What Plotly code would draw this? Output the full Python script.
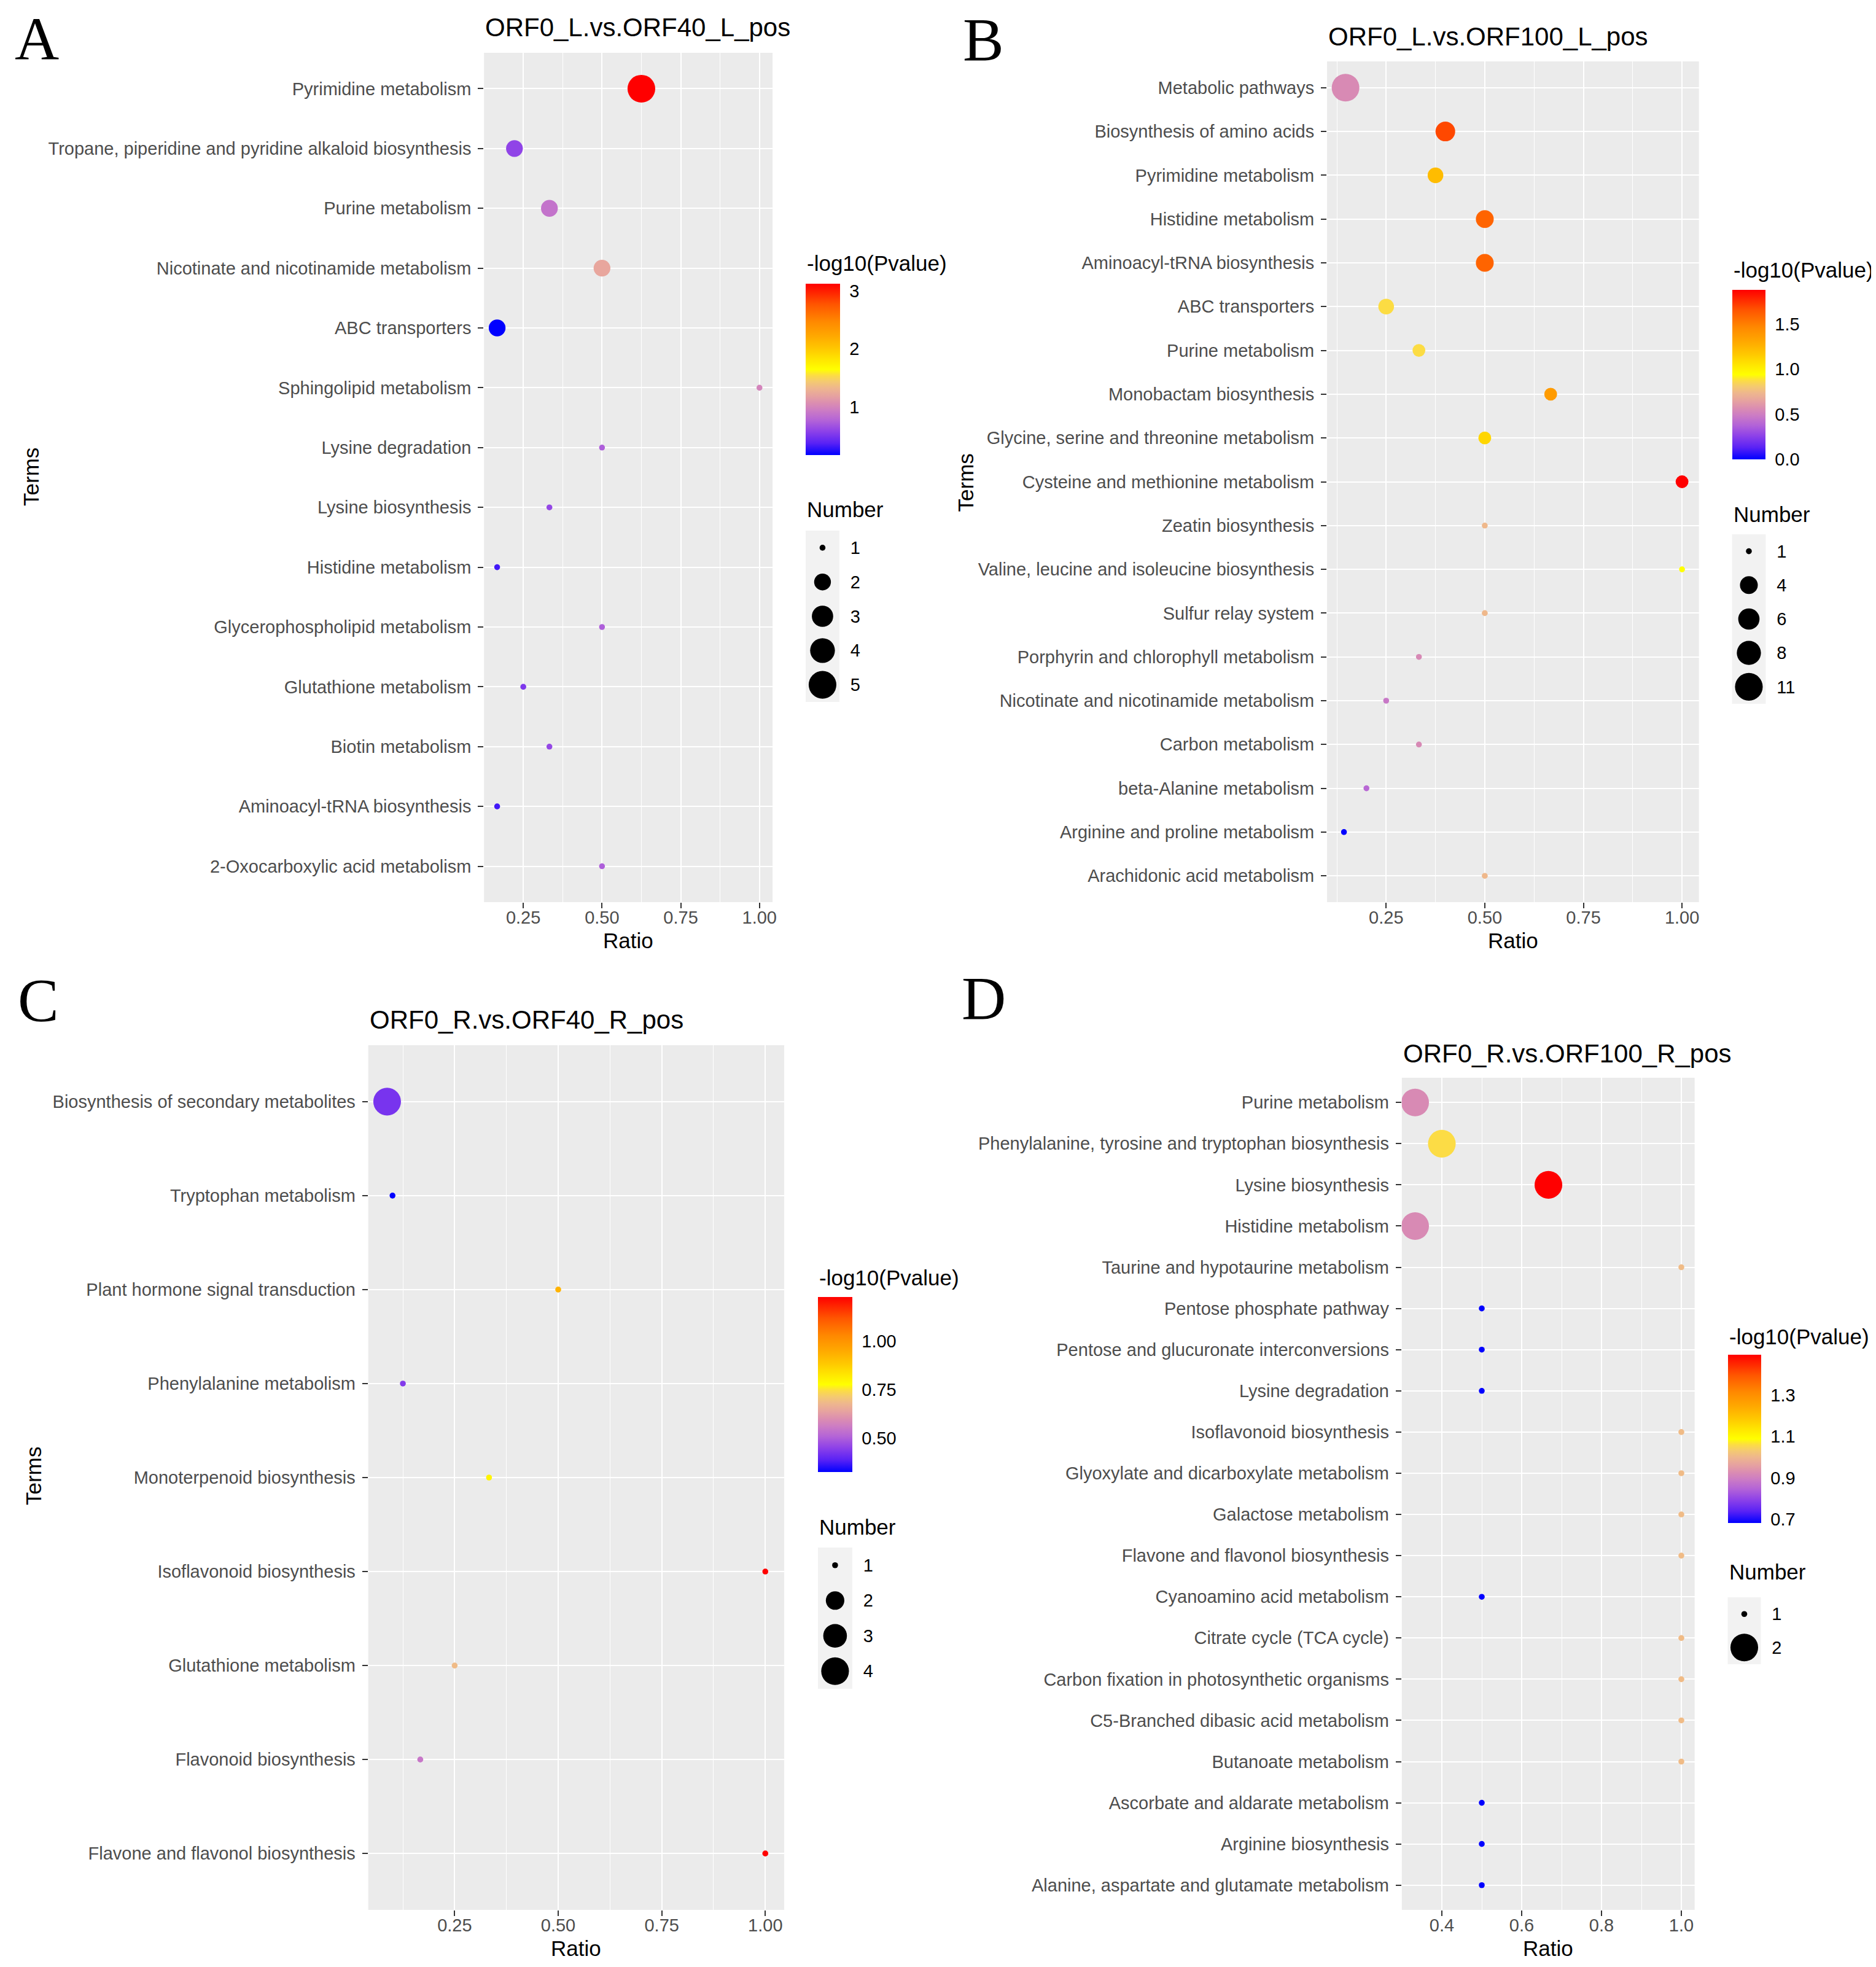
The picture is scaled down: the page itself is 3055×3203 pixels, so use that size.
import numpy as np
import plotly.graph_objects as go

W, H = 3055, 3203

# ---------------- data ----------------
a_terms = ["Pyrimidine metabolism",
           "Tropane, piperidine and pyridine alkaloid biosynthesis",
           "Purine metabolism", "Nicotinate and nicotinamide metabolism",
           "ABC transporters", "Sphingolipid metabolism", "Lysine degradation",
           "Lysine biosynthesis", "Histidine metabolism",
           "Glycerophospholipid metabolism", "Glutathione metabolism",
           "Biotin metabolism", "Aminoacyl-tRNA biosynthesis",
           "2-Oxocarboxylic acid metabolism"]
a_ratio = [0.625, 0.222, 0.333, 0.5, 0.167, 1.0, 0.5, 0.333, 0.167, 0.5, 0.25, 0.333, 0.167, 0.5]
a_number = [5, 2, 2, 2, 2, 1, 1, 1, 1, 1, 1, 1, 1, 1]
a_logp = [3.12, 0.60, 0.88, 1.22, 0.18, 1.00, 0.75, 0.62, 0.33, 0.75, 0.53, 0.62, 0.33, 0.75]

b_terms = ["Metabolic pathways", "Biosynthesis of amino acids", "Pyrimidine metabolism",
           "Histidine metabolism", "Aminoacyl-tRNA biosynthesis", "ABC transporters",
           "Purine metabolism", "Monobactam biosynthesis",
           "Glycine, serine and threonine metabolism",
           "Cysteine and methionine metabolism", "Zeatin biosynthesis",
           "Valine, leucine and isoleucine biosynthesis", "Sulfur relay system",
           "Porphyrin and chlorophyll metabolism",
           "Nicotinate and nicotinamide metabolism", "Carbon metabolism",
           "beta-Alanine metabolism", "Arginine and proline metabolism",
           "Arachidonic acid metabolism"]
b_ratio = [0.147, 0.4, 0.375, 0.5, 0.5, 0.25, 0.333, 0.667, 0.5, 1.0, 0.5, 1.0, 0.5,
           0.333, 0.25, 0.333, 0.2, 0.143, 0.5]
b_number = [11, 5, 3, 4, 4, 3, 2, 2, 2, 2, 1, 1, 1, 1, 1, 1, 1, 1, 1]
b_logp = [0.555, 1.69, 1.22, 1.60, 1.60, 0.875, 0.875, 1.37, 1.11, 1.88, 0.74, 0.94, 0.74,
          0.55, 0.47, 0.55, 0.40, 0.0, 0.74]

c_terms = ["Biosynthesis of secondary metabolites", "Tryptophan metabolism",
           "Plant hormone signal transduction", "Phenylalanine metabolism",
           "Monoterpenoid biosynthesis", "Isoflavonoid biosynthesis",
           "Glutathione metabolism", "Flavonoid biosynthesis",
           "Flavone and flavonol biosynthesis"]
c_ratio = [0.087, 0.1, 0.5, 0.125, 0.333, 1.0, 0.25, 0.167, 1.0]
c_number = [4, 1, 1, 1, 1, 1, 1, 1, 1]
c_logp = [0.426, 0.327, 0.93, 0.44, 0.80, 1.227, 0.687, 0.55, 1.227]

d_terms = ["Purine metabolism", "Phenylalanine, tyrosine and tryptophan biosynthesis",
           "Lysine biosynthesis", "Histidine metabolism",
           "Taurine and hypotaurine metabolism", "Pentose phosphate pathway",
           "Pentose and glucuronate interconversions", "Lysine degradation",
           "Isoflavonoid biosynthesis", "Glyoxylate and dicarboxylate metabolism",
           "Galactose metabolism", "Flavone and flavonol biosynthesis",
           "Cyanoamino acid metabolism", "Citrate cycle (TCA cycle)",
           "Carbon fixation in photosynthetic organisms",
           "C5-Branched dibasic acid metabolism", "Butanoate metabolism",
           "Ascorbate and aldarate metabolism", "Arginine biosynthesis",
           "Alanine, aspartate and glutamate metabolism"]
d_ratio = [0.333, 0.4, 0.667, 0.333, 1.0, 0.5, 0.5, 0.5, 1.0, 1.0, 1.0, 1.0, 0.5, 1.0,
           1.0, 1.0, 1.0, 0.5, 0.5, 0.5]
d_number = [2, 2, 2, 2, 1, 1, 1, 1, 1, 1, 1, 1, 1, 1, 1, 1, 1, 1, 1, 1]
d_logp = [0.922, 1.06, 1.496, 0.922, 1.008, 0.682, 0.682, 0.682, 1.008, 1.008, 1.008,
          1.008, 0.682, 1.008, 1.008, 1.008, 1.008, 0.682, 0.682, 0.682]

titles = ["ORF0_L.vs.ORF40_L_pos", "ORF0_L.vs.ORF100_L_pos",
          "ORF0_R.vs.ORF40_R_pos", "ORF0_R.vs.ORF100_R_pos"]
letters = ["A", "B", "C", "D"]
size_breaks = [[1, 2, 3, 4, 5], [1, 4, 6, 8, 11], [1, 2, 3, 4], [1, 2]]
cb_tickvals = [[1, 2, 3], [0.0, 0.5, 1.0, 1.5], [0.5, 0.75, 1.0], [0.7, 0.9, 1.1, 1.3]]
cb_ticktext = [["1", "2", "3"], ["0.0", "0.5", "1.0", "1.5"],
               ["0.50", "0.75", "1.00"], ["0.7", "0.9", "1.1", "1.3"]]

# colour ramp: blue -> violet -> pink -> yellow -> orange -> red
ramp_pos = [0.0, 0.07, 0.14, 0.20, 0.26, 0.30, 0.345, 0.39, 0.43, 0.465, 0.50,
            0.57, 0.62, 0.69, 0.78, 0.88, 1.0]
ramp_col = ["#0000FF", "#5A22F5", "#8E42E8", "#B262D8", "#CC7CC4", "#DA8CB2",
            "#E6A2A0", "#EEB68E", "#F4CA70", "#FCDC44", "#FFFF00",
            "#FFE000", "#FFC800", "#FFAA00", "#FF8800", "#FF5500", "#FF0000"]
colorscale = [[p, c] for p, c in zip(ramp_pos, ramp_col)]


def size_px(n, lo, hi):
    s = 1 + 5 * np.sqrt((np.asarray(n, float) - lo) / (hi - lo))
    return 2.5 + 7.1 * s


# ---------------- geometry (pixels from top-left) ----------------
plot_box = [(782, 1253, 78, 1461), (2158, 2765, 92, 1461),
            (593, 1272, 1694, 3102), (2280, 2758, 1747, 3102)]
title_y = [37, 52, 1653, 1707]
ratio_y = [1523, 1523, 3164, 3164]
terms_pos = [(42, 768), (1568, 778), (46, 2395), None]
letter_pos = [(52, 56), (1597, 57), (55, 1620), (1598, 1617)]
cb_box = [(1307, 1363, 454, 733), (2819, 2873, 464, 740),
          (1327, 1383, 2104, 2389), (2812, 2866, 2198, 2472)]
cb_title_y = [420, 432, 2072, 2168]
num_title_y = [821, 830, 2478, 2551]
key_box = [(1307, 1362, 856, 1135), (2819, 2874, 862, 1138),
           (1327, 1383, 2512, 2742), (2812, 2866, 2593, 2702)]
x_dtick = [0.25, 0.25, 0.25, 0.2]
x_fmt = [".2f", ".2f", ".2f", ".1f"]

data = [(a_terms, a_ratio, a_number, a_logp), (b_terms, b_ratio, b_number, b_logp),
        (c_terms, c_ratio, c_number, c_logp), (d_terms, d_ratio, d_number, d_logp)]


def fx(px):
    return px / W


def fy(py):
    return 1 - py / H


fig = go.Figure()
layout = dict(width=W, height=H, margin=dict(l=0, r=0, t=0, b=0),
              paper_bgcolor="white", plot_bgcolor="rgba(0,0,0,0)", showlegend=False,
              font=dict(family="Liberation Sans", color="black"))
shapes, annotations = [], []
AX = dict(family="Liberation Sans", size=29, color="#4D4D4D")
LEG = dict(family="Liberation Sans", size=29, color="black")

for i, (terms, ratio, number, logp) in enumerate(data):
    k = i + 1
    xa, ya = ("x" if k == 1 else f"x{k}"), ("y" if k == 1 else f"y{k}")
    ca = "coloraxis" if k == 1 else f"coloraxis{k}"
    x0, x1, y0, y1 = plot_box[i]
    rmin, rmax = min(ratio), max(ratio)
    pad = 0.05 * (rmax - rmin)
    n = len(terms)
    nlo, nhi = size_breaks[i][0], size_breaks[i][-1]

    fig.add_trace(go.Scatter(
        x=ratio, y=terms, mode="markers", xaxis=xa, yaxis=ya,
        marker=dict(size=size_px(number, nlo, nhi), color=logp, coloraxis=ca,
                    line=dict(width=0), opacity=1),
        hoverinfo="skip"))

    layout["xaxis" if k == 1 else f"xaxis{k}"] = dict(
        domain=[fx(x0), fx(x1)], anchor=ya, range=[rmin - pad, rmax + pad],
        tick0=0, dtick=x_dtick[i], tickformat=x_fmt[i],
        showgrid=True, gridcolor="white", gridwidth=2.4, zeroline=False,
        minor=dict(dtick=x_dtick[i] / 2, tick0=0, showgrid=True, gridcolor="white",
                   gridwidth=1.2, ticks=""),
        ticks="outside", ticklen=9, tickwidth=2, tickcolor="#333333",
        ticklabelstandoff=-10,
        tickfont=AX, showline=False, fixedrange=True)
    layout["yaxis" if k == 1 else f"yaxis{k}"] = dict(
        domain=[fy(y1), fy(y0)], anchor=xa, type="category",
        categoryorder="array", categoryarray=terms, range=[n - 1 + 0.6, -0.6],
        showgrid=True, gridcolor="white", gridwidth=2.4, zeroline=False,
        ticks="outside", ticklen=9, tickwidth=2, tickcolor="#333333",
        ticklabelstandoff=5,
        tickfont=AX, showline=False, fixedrange=True)
    shapes.append(dict(type="rect", xref=f"{xa} domain", yref=f"{ya} domain",
                       x0=0, x1=1, y0=0, y1=1, fillcolor="#EBEBEB",
                       line=dict(width=0), layer="below"))

    # colour bar
    cx0, cx1, cy0, cy1 = cb_box[i]
    cmin, cmax = min(logp), max(logp)
    layout[ca] = dict(
        cmin=cmin, cmax=cmax, colorscale=colorscale,
        colorbar=dict(x=fx(cx0), xanchor="left", y=fy(cy0), yanchor="top",
                      len=cy1 - cy0, lenmode="pixels", thickness=cx1 - cx0,
                      thicknessmode="pixels", xpad=0, ypad=0, outlinewidth=0,
                      tickvals=cb_tickvals[i], ticktext=cb_ticktext[i],
                      ticks="outside", ticklen=10, tickwidth=1,
                      tickcolor="rgba(0,0,0,0)", tickfont=LEG))
    # white tick marks on both edges of the bar (ggplot style)
    for v in cb_tickvals[i]:
        frac = (v - cmin) / (cmax - cmin)
        if 0 <= frac <= 1:
            yy = fy(cy1 - frac * (cy1 - cy0))
            for xa_, xb_ in ((cx0, cx0 + 11), (cx1 - 11, cx1)):
                shapes.append(dict(type="line", xref="paper", yref="paper",
                                   x0=fx(xa_), x1=fx(xb_), y0=yy, y1=yy,
                                   line=dict(color="white", width=2), layer="above"))

    # size legend
    k2 = k + 4
    lxa, lya = f"x{k2}", f"y{k2}"
    kx0, kx1, ky0, ky1 = key_box[i]
    brk = size_breaks[i]
    labels = [str(b) for b in brk]
    fig.add_trace(go.Scatter(
        x=[0] * len(brk), y=labels, mode="markers", xaxis=lxa, yaxis=lya,
        marker=dict(size=size_px(brk, nlo, nhi), color="#000000", opacity=1,
                    line=dict(width=0)),
        hoverinfo="skip"))
    layout[f"xaxis{k2}"] = dict(domain=[fx(kx0), fx(kx1)], anchor=lya, range=[-1, 1],
                                visible=False, fixedrange=True)
    layout[f"yaxis{k2}"] = dict(domain=[fy(ky1), fy(ky0)], anchor=lxa, type="category",
                                categoryorder="array", categoryarray=labels,
                                range=[len(brk) - 0.5, -0.5], side="right",
                                showgrid=False, zeroline=False, showline=False,
                                ticks="outside", ticklen=11, tickcolor="rgba(0,0,0,0)",
                                tickfont=LEG, fixedrange=True)
    shapes.append(dict(type="rect", xref=f"{lxa} domain", yref=f"{lya} domain",
                       x0=0, x1=1, y0=0, y1=1, fillcolor="#F2F2F2",
                       line=dict(width=0), layer="below"))

    # texts
    annotations.append(dict(text=titles[i], x=fx(x0), y=fy(title_y[i]), xref="paper",
                            yref="paper", xanchor="left", yanchor="middle",
                            showarrow=False, font=dict(size=42, color="black")))
    annotations.append(dict(text="Ratio", x=fx((x0 + x1) / 2), y=fy(ratio_y[i]),
                            xref="paper", yref="paper", xanchor="center",
                            yanchor="middle", showarrow=False,
                            font=dict(size=35, color="black")))
    if terms_pos[i] is not None:
        tx, ty = terms_pos[i]
        annotations.append(dict(text="Terms", x=fx(tx), y=fy(ty), xref="paper",
                                yref="paper", xanchor="center", yanchor="middle",
                                textangle=-90, showarrow=False,
                                font=dict(size=35, color="black")))
    lx, ly = letter_pos[i]
    annotations.append(dict(text=letters[i], x=fx(lx), y=fy(ly), xref="paper",
                            yref="paper", xanchor="center", yanchor="middle",
                            showarrow=False,
                            font=dict(family="Liberation Serif", size=100, color="black")))
    annotations.append(dict(text="-log10(Pvalue)", x=fx(cx0), y=fy(cb_title_y[i]),
                            xref="paper", yref="paper", xanchor="left",
                            yanchor="middle", showarrow=False,
                            font=dict(size=35, color="black")))
    annotations.append(dict(text="Number", x=fx(kx0), y=fy(num_title_y[i]),
                            xref="paper", yref="paper", xanchor="left",
                            yanchor="middle", showarrow=False,
                            font=dict(size=35, color="black")))

layout["shapes"] = shapes
layout["annotations"] = annotations
fig.update_layout(**layout)
fig.write_html("out.html")
